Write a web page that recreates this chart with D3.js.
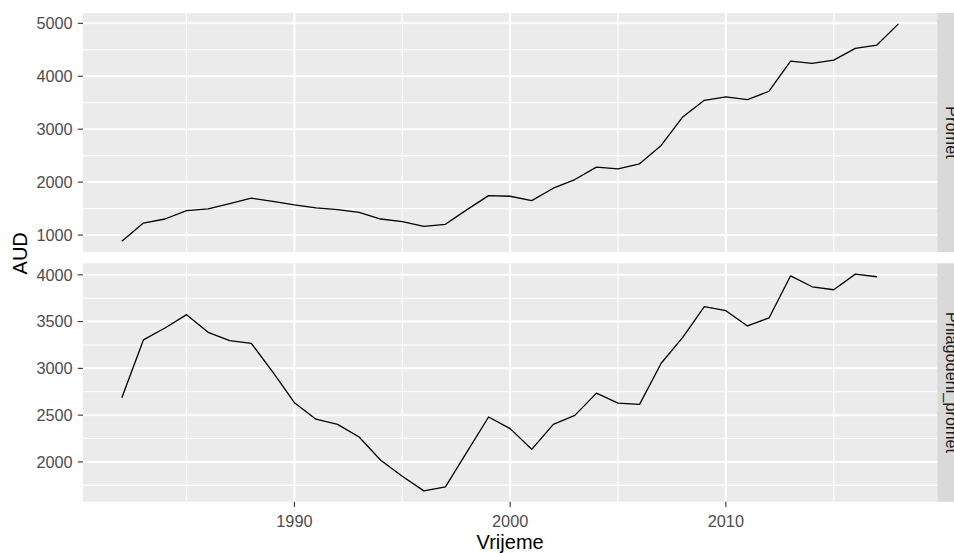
<!DOCTYPE html>
<html>
<head>
<meta charset="utf-8">
<script src="https://cdn.jsdelivr.net/npm/d3@7"></script>
<style>
  html, body { margin: 0; padding: 0; background: #fff; }
  svg { display: block; font-family: "Liberation Sans", Arial, sans-serif; }
</style>
</head>
<body>
<svg id="chart" width="954" height="553"></svg>
<script>
// ---- data ----
const years = [1982,1983,1984,1985,1986,1987,1988,1989,1990,1991,1992,1993,1994,1995,1996,1997,1998,1999,2000,
               2001,2002,2003,2004,2005,2006,2007,2008,2009,2010,2011,2012,2013,2014,2015,2016,2017,2018];
const promet = [885,1227,1303,1461,1493,1594,1696,1638,1569,1515,1480,1430,1303,1253,1164,1203,1480,1745,1733,
                1650,1885,2049,2283,2251,2346,2693,3231,3546,3610,3559,3717,4285,4242,4304,4526,4589,4990];
const prilagodeni = [2686,3304,3432,3574,3385,3297,3268,2959,2633,2457,2402,2266,2018,1848,1691,1734,2107,2480,2356,
                     2135,2402,2498,2735,2629,2615,3055,3332,3659,3616,3453,3539,3989,3872,3840,4007,3979];
const facetLabels = ["Promet", "Prilagodeni_promet"];
const xTicks = [1990, 2000, 2010];
const xMinor = [1985, 1995, 2005, 2015];
const yTicksTop = [1000, 2000, 3000, 4000, 5000];
const yMinorTop = [1500, 2500, 3500, 4500];
const yTicksBottom = [2000, 2500, 3000, 3500, 4000];
const yMinorBottom = [1750, 2250, 2750, 3250, 3750];
const xTitle = "Vrijeme";
const yTitle = "AUD";

// ---- layout ----
const L = 83, R = 937.3;
const panels = [
  { top: 13, bottom: 252, values: promet, label: facetLabels[0], ticks: yTicksTop, minor: yMinorTop },
  { top: 263.3, bottom: 501.7, values: prilagodeni, label: facetLabels[1], ticks: yTicksBottom, minor: yMinorBottom }
];

const svg = d3.select("#chart");

function expand(ext) { const r = ext[1] - ext[0]; return [ext[0] - 0.05 * r, ext[1] + 0.05 * r]; }

const allYears = d3.extent(years);
const x = d3.scaleLinear().domain(expand(allYears)).range([L, R]);

const tickFont = 16.3, titleFont = 20;

panels.forEach((p, i) => {
  const data = p.values.map((v, k) => ({ year: years[k], v }));
  const y = d3.scaleLinear().domain(expand(d3.extent(p.values))).range([p.bottom, p.top]);
  const g = svg.append("g");

  g.append("rect").attr("x", L).attr("y", p.top).attr("width", R - L).attr("height", p.bottom - p.top)
    .attr("fill", "#EBEBEB");

  // minor grid
  g.selectAll(".hmin").data(p.minor).enter().append("line")
    .attr("x1", L).attr("x2", R).attr("y1", d => y(d)).attr("y2", d => y(d))
    .attr("stroke", "#fff").attr("stroke-width", 1.1);
  g.selectAll(".vmin").data(xMinor).enter().append("line")
    .attr("y1", p.top).attr("y2", p.bottom).attr("x1", d => x(d)).attr("x2", d => x(d))
    .attr("stroke", "#fff").attr("stroke-width", 1.1);
  // major grid
  g.selectAll(".hmaj").data(p.ticks).enter().append("line")
    .attr("x1", L).attr("x2", R).attr("y1", d => y(d)).attr("y2", d => y(d))
    .attr("stroke", "#fff").attr("stroke-width", 2);
  g.selectAll(".vmaj").data(xTicks).enter().append("line")
    .attr("y1", p.top).attr("y2", p.bottom).attr("x1", d => x(d)).attr("x2", d => x(d))
    .attr("stroke", "#fff").attr("stroke-width", 2);

  // line
  const line = d3.line().x(d => x(d.year)).y(d => y(d.v));
  g.append("path").datum(data).attr("d", line).attr("fill", "none")
    .attr("stroke", "#000").attr("stroke-width", 1.3).attr("stroke-linejoin", "round");

  // y axis ticks
  g.selectAll(".yt").data(p.ticks).enter().append("line")
    .attr("x1", L - 5.2).attr("x2", L).attr("y1", d => y(d)).attr("y2", d => y(d))
    .attr("stroke", "#333").attr("stroke-width", 1.1);
  g.selectAll(".yl").data(p.ticks).enter().append("text")
    .attr("x", L - 10.3).attr("y", d => y(d)).attr("dy", "0.36em")
    .attr("text-anchor", "end").attr("font-size", tickFont).attr("fill", "#4D4D4D")
    .text(d => d);

  // strip
  g.append("rect").attr("x", R).attr("y", p.top).attr("width", 30).attr("height", p.bottom - p.top)
    .attr("fill", "#D9D9D9");
  g.append("text")
    .attr("transform", `translate(946,${(p.top + p.bottom) / 2}) rotate(90)`)
    .attr("text-anchor", "middle").attr("font-size", tickFont).attr("fill", "#1A1A1A")
    .text(p.label);

  if (i === panels.length - 1) {
    g.selectAll(".xt").data(xTicks).enter().append("line")
      .attr("x1", d => x(d)).attr("x2", d => x(d)).attr("y1", p.bottom).attr("y2", p.bottom + 5.2)
      .attr("stroke", "#333").attr("stroke-width", 1.1);
    g.selectAll(".xl").data(xTicks).enter().append("text")
      .attr("x", d => x(d)).attr("y", 526.7)
      .attr("text-anchor", "middle").attr("font-size", tickFont).attr("fill", "#4D4D4D")
      .text(d => d);
  }
});

// axis titles
svg.append("text").attr("x", (L + R) / 2).attr("y", 549.3)
  .attr("text-anchor", "middle").attr("font-size", titleFont).attr("fill", "#000").text(xTitle);
svg.append("text")
  .attr("transform", `translate(26.7,${(panels[0].top + panels[1].bottom) / 2 - 4}) rotate(-90)`)
  .attr("text-anchor", "middle").attr("font-size", titleFont).attr("fill", "#000").text(yTitle);
</script>
</body>
</html>
